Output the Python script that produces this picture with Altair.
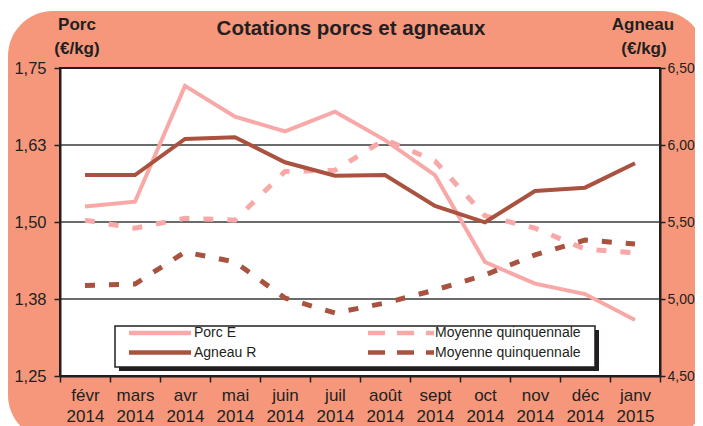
import altair as alt
import pandas as pd

# ---------------- data ----------------
months = ["févr 2014", "mars 2014", "avr 2014", "mai 2014", "juin 2014", "juil 2014",
          "août 2014", "sept 2014", "oct 2014", "nov 2014", "déc 2014", "janv 2015"]
porc_e = [1.525, 1.533, 1.721, 1.671, 1.647, 1.679, 1.633, 1.576, 1.435, 1.400, 1.383, 1.341]
porc_moy = [1.503, 1.490, 1.506, 1.503, 1.582, 1.584, 1.634, 1.599, 1.510, 1.490, 1.456, 1.450]
agneau_r = [5.805, 5.805, 6.039, 6.050, 5.888, 5.800, 5.805, 5.604, 5.498, 5.701, 5.723, 5.881]
agneau_moy = [5.088, 5.097, 5.305, 5.240, 5.006, 4.909, 4.974, 5.058, 5.156, 5.286, 5.383, 5.357]

porc_ticks = [1.25, 1.375, 1.5, 1.625, 1.75]
agneau_ticks = [4.5, 5.0, 5.5, 6.0, 6.5]
grid_values = [1.375, 1.5, 1.625]

title_text = "Cotations porcs et agneaux"
left_unit = ["Porc", "(€/kg)"]
right_unit = ["Agneau", "(€/kg)"]
legend_labels = ["Porc E", "Agneau R", "Moyenne quinquennale", "Moyenne quinquennale"]

# ---------------- style ----------------
W, H = 600, 308
FONT = "Liberation Sans"
ORANGE = "#F6977B"
PINK = "#F8A8A7"
DARK = "#A9523F"
INK = "#231F20"

one = pd.DataFrame({"k": [0]})

x_axis = alt.Axis(title=None, orient="bottom", tickBand="extent", tickSize=6, tickWidth=1.5,
                  tickColor=INK, domainColor=INK, domainWidth=2, labelFont=FONT,
                  labelFontSize=17, labelColor=INK, labelExpr="split(datum.label, ' ')",
                  labelLineHeight=21, labelPadding=5, labelAngle=0, grid=False, zindex=1)
x_enc = alt.X("month:N", sort=months, bandPosition=0.5,
              scale=alt.Scale(type="band", domain=months, paddingInner=0, paddingOuter=0),
              axis=x_axis)

num_label = "replace(format(datum.value, '.2f'), '.', ',')"
porc_axis = alt.Axis(title=None, orient="left", values=porc_ticks, labelExpr=num_label,
                     tickSize=6, tickWidth=1.5, tickColor=INK, domainColor=INK, domainWidth=2,
                     labelFont=FONT, labelFontSize=16.5, labelColor=INK, labelPadding=8,
                     grid=False, zindex=1)
agneau_axis = alt.Axis(title=None, orient="right", values=agneau_ticks, labelExpr=num_label,
                       tickSize=5, tickWidth=1.5, tickColor=INK, domainColor=INK, domainWidth=2,
                       labelFont=FONT, labelFontSize=14, labelColor=INK, labelPadding=2,
                       grid=False, zindex=1)
porc_scale = alt.Scale(domain=[1.25, 1.75], nice=False, zero=False)
agneau_scale = alt.Scale(domain=[4.5, 6.5], nice=False, zero=False)


def py(field):
    return alt.Y(field, scale=porc_scale, axis=porc_axis)


def ay(field):
    return alt.Y(field, scale=agneau_scale, axis=agneau_axis)


# ---------------- background ----------------
bg = alt.Chart(one).mark_rect(color=ORANGE, cornerRadius=45).encode(
    x=alt.value(-52), x2=alt.value(645), y=alt.value(-57), y2=alt.value(372))
plot_bg = alt.Chart(one).mark_rect(fill="white", stroke=INK, strokeWidth=2).encode(
    x=alt.value(0), x2=alt.value(W), y=alt.value(0), y2=alt.value(H))

# ---------------- porc (left axis) ----------------
grid = alt.Chart(pd.DataFrame({"value": grid_values})).mark_rule(
    color="#3a3a3a", strokeWidth=1.5).encode(y=py("value:Q"))

df_pe = pd.DataFrame({"month": months, "value": porc_e})
df_pm = pd.DataFrame({"month": months, "value": porc_moy})
df_ar = pd.DataFrame({"month": months, "value": agneau_r})
df_am = pd.DataFrame({"month": months, "value": agneau_moy})

line_pm = alt.Chart(df_pm).mark_line(color=PINK, strokeWidth=5, strokeDash=[10, 14],
                                      strokeCap="butt").encode(x=x_enc, y=py("value:Q"))
line_pe = alt.Chart(df_pe).mark_line(color=PINK, strokeWidth=4).encode(x=x_enc, y=py("value:Q"))
porc_layer = alt.layer(grid, line_pm, line_pe)

# ---------------- agneau (right axis) ----------------
line_am = alt.Chart(df_am).mark_line(color=DARK, strokeWidth=5, strokeDash=[10, 14],
                                      strokeCap="butt").encode(x=x_enc, y=ay("value:Q"))
line_ar = alt.Chart(df_ar).mark_line(color=DARK, strokeWidth=4).encode(x=x_enc, y=ay("value:Q"))
agneau_layer = alt.layer(line_am, line_ar)

# ---------------- legend ----------------
leg_shadow = alt.Chart(one).mark_rect(color=INK).encode(
    x=alt.value(59), x2=alt.value(539), y=alt.value(262), y2=alt.value(303))
leg_box = alt.Chart(one).mark_rect(fill="white", stroke=INK, strokeWidth=1.5).encode(
    x=alt.value(55), x2=alt.value(535), y=alt.value(258), y2=alt.value(299))


def leg_line(x1, x2, y, color, dash):
    kw = dict(color=color, strokeWidth=4.5, strokeCap="butt")
    if dash:
        kw["strokeDash"] = [17, 12]
    return alt.Chart(one).mark_rule(**kw).encode(x=alt.value(x1), x2=alt.value(x2), y=alt.value(y))


def leg_text(x, y, txt):
    return alt.Chart(one).mark_text(text=txt, font=FONT, fontSize=14, color=INK, align="left",
                                    baseline="middle").encode(x=alt.value(x), y=alt.value(y))


legend = [
    leg_shadow, leg_box,
    leg_line(69, 131, 265, PINK, False), leg_text(134, 265, legend_labels[0]),
    leg_line(69, 131, 284.5, DARK, False), leg_text(134, 284.5, legend_labels[1]),
    leg_line(308, 374, 265, PINK, True), leg_text(375, 265, legend_labels[2]),
    leg_line(308, 374, 284.5, DARK, True), leg_text(375, 284.5, legend_labels[3]),
]


# ---------------- titles ----------------
def label(x, y, txt, size):
    return alt.Chart(one).mark_text(text=txt, font=FONT, fontSize=size, fontWeight="bold",
                                    color=INK, align="center", baseline="alphabetic").encode(
        x=alt.value(x), y=alt.value(y))


titles = [
    label(291, -33.5, title_text, 20.5),
    label(17, -38, left_unit[0], 17),
    label(17, -14.5, left_unit[1], 17),
    label(583, -38.5, right_unit[0], 17),
    label(584, -14.5, right_unit[1], 17),
]

chart = alt.layer(bg, plot_bg, porc_layer, agneau_layer, *legend, *titles).resolve_scale(
    y="independent"
).properties(
    width=W, height=H, autosize="none",
    padding={"left": 52, "top": 60, "right": 35, "bottom": 50},
    background="white",
).configure_view(stroke=None)

chart.save("out.html", embed_options={"renderer": "svg", "actions": False})
